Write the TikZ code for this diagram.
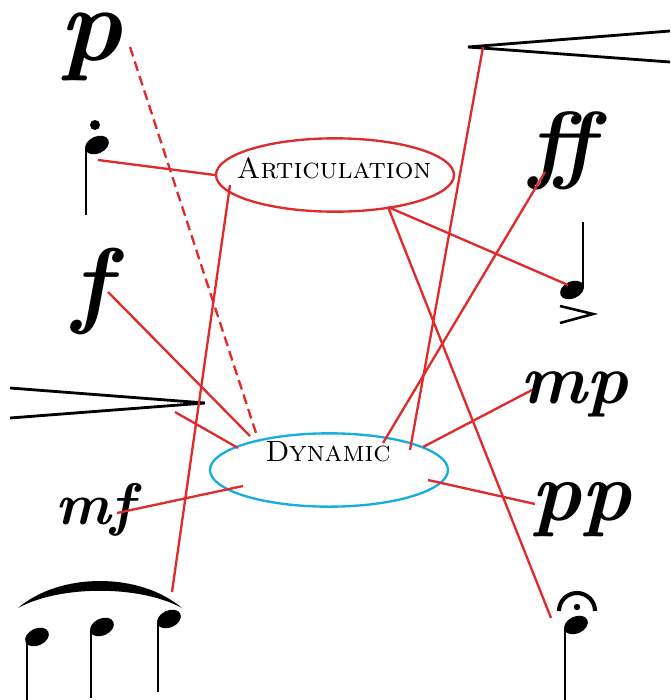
\documentclass[tikz,border=0pt]{standalone}
\usepackage{fontspec}
\usepackage{xcolor}
\usetikzlibrary{shapes.geometric}
\definecolor{linkred}{RGB}{222,44,44}
\definecolor{dynblue}{RGB}{24,172,224}

\tikzset{head/.pic={\fill[rotate=25] (0,0) ellipse (12.5 and 8.5);}}

\begin{document}
\begin{tikzpicture}[
  x=0.03cm, y=-0.03cm,
  dynmark/.style={font=\bfseries\itshape\fontsize{#1}{#1}\selectfont, inner sep=0pt},
  hub/.style={ellipse, line width=2pt, minimum width=7.14cm, minimum height=2.2cm, inner sep=0pt},
  hubtext/.style={font=\fontsize{25}{25}\selectfont\scshape, inner sep=0pt},
  link/.style={draw=linkred, line width=2pt},
  hairpin/.style={line width=2.4pt},
  stem/.style={line width=2.2pt}
]
\useasboundingbox (0,0) rectangle (670,700);

\node[hub, draw=linkred] (art) at (335,175) {};
\node[hubtext] (art-label) at (334,168) {Articulation};
\node[hub, draw=dynblue] (dyn) at (329,470) {};
\node[hubtext] (dyn-label) at (328,452) {Dynamic};

\node[dynmark=90] (p) at (91,47) {p};
\node[dynmark=82] (f) at (92,291) {f};
\node[dynmark=50] (mf) at (95,510) {mf};
\node[dynmark=74] (ff) at (562,151) {ff};
\node[dynmark=60] (mp) at (574,394) {mp};
\node[dynmark=72] (pp) at (581,510) {pp};

\fill (95,125) circle (5);
\pic at (97,145) {head};
\draw[stem] (86,148) -- (86,215);

\pic at (572,290) {head};
\draw[stem] (583,287) -- (583,222);
\draw[line width=2.2pt] (560,306) -- (593,314) -- (560,323);

\draw[line width=3.5pt] (559,611) arc[start angle=180, end angle=360, radius=18];
\fill (577,607) circle (3.2);
\pic at (576,625) {head};
\draw[stem] (565,628) -- (565,700);

\fill (18,608) .. controls (60,572) and (140,572) .. (182,608)
  .. controls (140,585) and (60,585) .. (18,608) -- cycle;
\pic at (37,637) {head};
\draw[stem] (27,640) -- (27,700);
\pic at (102,627) {head};
\draw[stem] (91,630) -- (91,698);
\pic at (169,619) {head};
\draw[stem] (158,622) -- (158,692);

\draw[hairpin] (10,388) -- (205,403) -- (10,418);
\draw[hairpin] (670,31) -- (468,47) -- (670,62);

\coordinate (p-tip) at (130,47);
\coordinate (stacc-tip) at (98,160);
\coordinate (f-tip) at (108,292);
\coordinate (hp-left) at (175,412);
\coordinate (slur-tip) at (172,592);
\coordinate (mf-tip) at (117,513);
\coordinate (hp-right) at (483,47);
\coordinate (ff-tip) at (545,172);
\coordinate (acc-tip) at (568,285);
\coordinate (ferm-tip) at (551,618);
\coordinate (mp-tip) at (532,390);
\coordinate (pp-tip) at (535,504);
\coordinate (art-sw) at (230,185);
\coordinate (art-se) at (388,207);
\coordinate (dyn-p) at (257,436);
\coordinate (dyn-f) at (250,436);
\coordinate (dyn-hp) at (238,448);
\coordinate (dyn-mf) at (243,486);
\coordinate (dyn-hp2) at (410,450);
\coordinate (dyn-ff) at (383,443);
\coordinate (dyn-mp) at (423,447);
\coordinate (dyn-pp) at (428,480);

\draw[link, dash pattern=on 8.5pt off 4.5pt] (p-tip) -- (dyn-p);
\draw[link] (stacc-tip) -- (art.west);
\draw[link] (f-tip) -- (dyn-f);
\draw[link] (hp-left) -- (dyn-hp);
\draw[link] (art-sw) -- (slur-tip);
\draw[link] (mf-tip) -- (dyn-mf);
\draw[link] (hp-right) -- (dyn-hp2);
\draw[link] (ff-tip) -- (dyn-ff);
\draw[link] (art-se) -- (acc-tip);
\draw[link] (art-se) -- (ferm-tip);
\draw[link] (mp-tip) -- (dyn-mp);
\draw[link] (pp-tip) -- (dyn-pp);

\end{tikzpicture}
\end{document}
